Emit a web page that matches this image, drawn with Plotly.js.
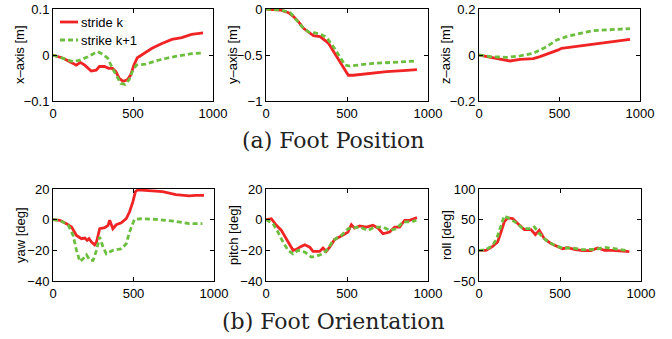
<!DOCTYPE html>
<html>
<head>
<meta charset="utf-8">
<script src="https://cdn.plot.ly/plotly-3.0.1.min.js"></script>
<style>html,body{margin:0;padding:0;background:#fff;}#chart{width:672px;height:339px;}</style>
</head>
<body>
<div id="chart"></div>
<script>
// ---- Data ----
const seriesNames = ["stride k", "strike k+1"];
const xTicks = [0, 500, 1000];

// Foot position: x-axis [m]
const posX_k_t = [0,64,105,146,171,198,239,270,290,321,348,372,393,414,438,465,486,506,527,568,619,681,743,805,866,938];
const posX_k_v = [0,-0.007,-0.0145,-0.022,-0.016,-0.022,-0.035,-0.033,-0.025,-0.025,-0.029,-0.029,-0.036,-0.051,-0.057,-0.054,-0.043,-0.022,-0.006,0.004,0.0145,0.025,0.034,0.038,0.045,0.048];
const posX_k1_t = [0,64,125,167,218,259,280,311,342,372,403,424,451,475,496,521,578,640,722,805,866,928];
const posX_k1_v = [0,-0.007,-0.0145,-0.011,-0.004,0.004,0.007,0.0015,-0.007,-0.029,-0.047,-0.062,-0.064,-0.054,-0.036,-0.022,-0.020,-0.013,-0.006,-0.0015,0.003,0.004];

// Foot position: y-axis [m]
const posY_k_t = [0,88,139,170,201,232,262,293,334,365,385,416,457,488,508,539,641,744,846,932];
const posY_k_v = [0,-0.011,-0.04,-0.083,-0.14,-0.21,-0.25,-0.29,-0.30,-0.34,-0.37,-0.46,-0.57,-0.66,-0.72,-0.72,-0.70,-0.68,-0.67,-0.66];
const posY_k1_t = [0,88,150,180,221,262,303,344,375,416,457,488,518,580,662,785,918];
const posY_k1_v = [0,-0.011,-0.04,-0.10,-0.19,-0.25,-0.26,-0.28,-0.31,-0.41,-0.52,-0.61,-0.62,-0.61,-0.59,-0.58,-0.565];

// Foot position: z-axis [m]
const posZ_k_t = [0,68,130,193,255,337,379,441,493,513,586,689,793,865,938];
const posZ_k_v = [0,-0.01,-0.019,-0.026,-0.019,-0.016,-0.007,0.007,0.022,0.029,0.036,0.046,0.054,0.062,0.068];
const posZ_k1_t = [0,68,172,255,337,420,482,544,627,710,793,876,938];
const posZ_k1_v = [0,-0.007,-0.01,-0.004,0.007,0.036,0.065,0.08,0.094,0.106,0.109,0.113,0.115];

// Foot orientation: yaw [deg]
const yaw_k_t = [0,43,84,115,146,177,198,212,224,239,259,270,280,290,321,342,352,362,372,393,424,455,475,496,512,527,599,681,763,846,887,938];
const yaw_k_v = [0,-0.4,-2.6,-4.8,-10.3,-12.4,-12,-13.5,-12.4,-14.6,-16.4,-14.6,-10.3,-5.9,-5.2,-3.7,-0.4,-3.7,-5.9,-3.3,-2,0.65,5,11.6,18.3,19.4,18.7,18.3,16.4,15.5,15.9,15.9];
const yaw_k1_t = [0,43,95,125,146,167,187,208,230,249,270,290,311,331,372,424,455,475,506,547,640,763,846,928];
const yaw_k1_v = [0,-0.4,-3.7,-10.3,-20,-27.3,-25.5,-22.9,-26.6,-26.6,-20,-11.3,-17.9,-22.3,-20,-19,-15.7,-8.1,0.2,0.6,0.2,-1.1,-2.6,-2.6];

// Foot orientation: pitch [deg]
const pitch_k_t = [0,33,64,95,125,146,167,187,208,239,270,290,331,352,372,393,424,465,506,527,547,578,619,660,691,722,763,794,825,856,887,932];
const pitch_k_v = [0,0.65,-3.7,-7,-12.4,-16.4,-20,-19.4,-17.9,-16.4,-17.9,-20.7,-20.7,-18.5,-20.7,-17.9,-12.9,-10.7,-8.1,-3.3,-5.5,-4.1,-4.8,-3.7,-5.5,-9.2,-8.1,-4.8,-4.8,-0.4,-0.4,1.3];
const pitch_k1_t = [0,43,74,105,136,167,198,239,280,311,352,383,414,465,506,537,578,630,671,722,763,805,846,897,928];
const pitch_k1_v = [0,-2.6,-8.1,-14.6,-20,-22.3,-20,-21.1,-24.4,-23.8,-22.3,-19,-13.5,-10.3,-5.9,-5.5,-4.8,-7,-4.8,-4.8,-7,-5.9,-1.5,-1.5,-0.4];

// Foot orientation: roll [deg]
const roll_k_t = [0,43,84,115,136,156,177,208,239,280,321,348,372,403,444,485,516,547,588,640,691,732,774,825,887,928];
const roll_k_v = [0,0,6.5,13.6,30,46.3,52.9,51.8,43.6,33.8,33.8,25.6,32.7,19.1,10.9,6.5,2.7,4.4,1.6,-0.5,-0.5,3.8,0,0,-1.1,-2.2];
const roll_k1_t = [0,43,84,109,130,156,187,228,270,311,342,372,414,465,516,578,640,722,774,825,907];
const roll_k1_v = [0,1.1,8.2,19.1,35.4,56.2,51.8,45.3,35.4,35.4,38.2,27.3,16.4,8.2,3.8,3.8,1.1,1.6,4.9,2.7,0];

const yLabels = ["x–axis [m]", "y–axis [m]", "z–axis [m]", "yaw [deg]", "pitch [deg]", "roll [deg]"];
const yRanges = [[-0.1,0.1],[-1,0],[-0.2,0.2],[-40,20],[-40,20],[-50,100]];
const yDticks = [0.1, 0.5, 0.2, 20, 20, 50];
const captions = ["(a) Foot Position", "(b) Foot Orientation"];

// ---- Build ----
const W = 672, H = 339;
const RED = "#f02424", GREEN = "#6cbf3e";
const panels = [
  [posX_k_t, posX_k_v, posX_k1_t, posX_k1_v],
  [posY_k_t, posY_k_v, posY_k1_t, posY_k1_v],
  [posZ_k_t, posZ_k_v, posZ_k1_t, posZ_k1_v],
  [yaw_k_t, yaw_k_v, yaw_k1_t, yaw_k1_v],
  [pitch_k_t, pitch_k_v, pitch_k1_t, pitch_k1_v],
  [roll_k_t, roll_k_v, roll_k1_t, roll_k1_v]
];
// pixel boxes [left, right, top, bottom]
const boxes = [
  [53,213,9,101],[266,428,9,101],[479,640,9,101],
  [53,214,189,281],[266,428,189,281],[479,641,189,281]
];
const tickFont = {family: "Liberation Sans, Arial, sans-serif", size: 13, color: "#000"};

const traces = [];
const layout = {
  width: W, height: H,
  margin: {l:0, r:0, t:0, b:0},
  paper_bgcolor: "#fff", plot_bgcolor: "#fff",
  showlegend: false,
  annotations: [], shapes: []
};

panels.forEach((p, i) => {
  const n = i + 1;
  const xa = n === 1 ? "x" : "x" + n, ya = n === 1 ? "y" : "y" + n;
  traces.push({x: p[0], y: p[1], xaxis: xa, yaxis: ya, type: "scatter", mode: "lines",
    name: seriesNames[0], line: {color: RED, width: 2.8}});
  traces.push({x: p[2], y: p[3], xaxis: xa, yaxis: ya, type: "scatter", mode: "lines",
    name: seriesNames[1], line: {color: GREEN, width: 2.8, dash: "5px,3px"}});
  const b = boxes[i];
  const axCommon = {showline: true, linecolor: "#000", linewidth: 1, mirror: "ticks",
    ticks: "inside", ticklen: 4, tickcolor: "#000", showgrid: false, zeroline: false,
    tickfont: tickFont, fixedrange: true};
  layout["xaxis" + (n === 1 ? "" : n)] = Object.assign({}, axCommon, {
    domain: [b[0]/W, b[1]/W], range: [0, 1000], tickvals: xTicks, anchor: ya});
  layout["yaxis" + (n === 1 ? "" : n)] = Object.assign({}, axCommon, {
    domain: [1 - b[3]/H, 1 - b[2]/H], range: yRanges[i], dtick: yDticks[i], tick0: 0, anchor: xa});
  layout.annotations.push({
    text: yLabels[i], xref: "paper", yref: "paper",
    x: (b[0] - 33)/W, y: 1 - ((b[2] + b[3]) / 2)/H,
    textangle: -90, showarrow: false, xanchor: "center", yanchor: "middle",
    font: {family: "Liberation Sans, Arial, sans-serif", size: 13, color: "#000"}
  });
});

// captions
layout.annotations.push({text: captions[0], xref: "paper", yref: "paper", x: 333/W, y: 1 - 140/H,
  showarrow: false, xanchor: "center", yanchor: "middle",
  font: {family: "DejaVu Serif, serif", size: 22, color: "#222"}});
layout.annotations.push({text: captions[1], xref: "paper", yref: "paper", x: 333/W, y: 1 - 321/H,
  showarrow: false, xanchor: "center", yanchor: "middle",
  font: {family: "DejaVu Serif, serif", size: 22, color: "#222"}});

// legend (inside first panel)
const legRows = [[22, RED, "solid"], [40, GREEN, "5px,3px"]];
legRows.forEach((r, k) => {
  layout.shapes.push({type: "line", xref: "paper", yref: "paper",
    x0: 60/W, x1: 78/W, y0: 1 - r[0]/H, y1: 1 - r[0]/H,
    line: {color: r[1], width: 2.8, dash: r[2]}});
  layout.annotations.push({text: seriesNames[k], xref: "paper", yref: "paper",
    x: 79/W, y: 1 - r[0]/H, showarrow: false, xanchor: "left", yanchor: "middle",
    font: {family: "Liberation Sans, Arial, sans-serif", size: 13, color: "#000"}});
});

Plotly.newPlot("chart", traces, layout, {staticPlot: true, displayModeBar: false});
</script>
</body>
</html>
